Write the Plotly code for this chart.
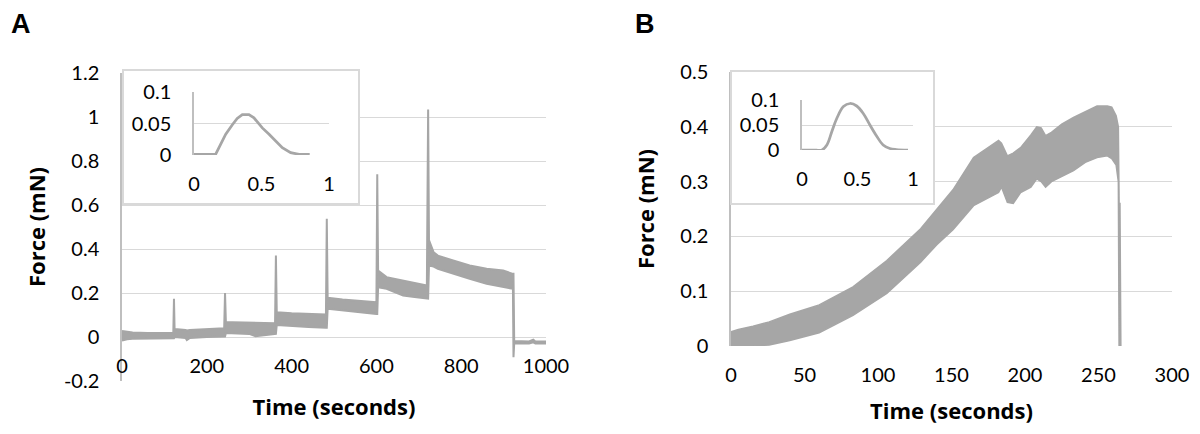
import plotly.graph_objects as go

# ---------------- data ----------------
# Panel A: force trace shown as lower/upper envelope of the noisy band (time in s, force in mN)
a_time = [0, 3, 12, 25, 60, 100, 121, 122.6, 124, 150, 153, 160, 200, 241,
          243, 245, 260, 300, 315, 325, 340, 361, 363, 365, 400, 440, 481,
          483, 485, 520, 560, 600, 602, 604, 624, 663, 690, 719, 722, 724,
          735, 745, 781, 820, 860, 899, 922, 923.3, 925, 960, 970, 975, 1000]
a_upper = [0.027, 0.026, 0.024, 0.02, 0.018, 0.018, 0.018, 0.174, 0.036, 0.032, 0.03, 0.032, 0.036, 0.04,
           0.2, 0.068, 0.067, 0.066, 0.064, 0.064, 0.063, 0.062, 0.37, 0.113, 0.108, 0.105, 0.102,
           0.537, 0.178, 0.17, 0.165, 0.158, 0.74, 0.302, 0.272, 0.257, 0.245, 0.234, 1.034, 0.44,
           0.385, 0.37, 0.348, 0.325, 0.31, 0.302, 0.287, 0.287, -0.018, -0.02, -0.012, -0.02, -0.02]
a_lower = [-0.016, -0.014, -0.01, -0.008, -0.007, -0.006, -0.006, -0.006, 0.0, -0.004, -0.014, -0.004, 0.0, 0.002,
           0.002, 0.018, 0.016, 0.014, 0.004, 0.006, 0.012, 0.014, 0.014, 0.055, 0.05, 0.045, 0.042,
           0.042, 0.128, 0.12, 0.112, 0.105, 0.105, 0.226, 0.219, 0.189, 0.182, 0.174, 0.174, 0.325,
           0.32, 0.31, 0.287, 0.265, 0.242, 0.226, 0.219, -0.092, -0.03, -0.03, -0.024, -0.03, -0.03]

# Panel A inset: single twitch (time in s, force in mN)
ia_time = [0, 0.05, 0.1, 0.16, 0.185, 0.235, 0.284, 0.32, 0.358, 0.407, 0.444, 0.506, 0.556,
           0.605, 0.654, 0.716, 0.778, 0.857]
ia_force = [0.001, 0.001, 0.001, 0.001, 0.0116, 0.033, 0.048, 0.058, 0.064, 0.064, 0.059, 0.043, 0.033,
            0.022, 0.0116, 0.0037, 0.001, 0.001]

# Panel B: envelope of the noisy band
b_time = [0, 5, 15, 26, 40, 60, 83, 106, 129, 140, 151, 165, 175, 182, 184, 188, 192, 197,
          204, 208, 211, 214, 218, 225, 233, 241, 249, 256, 259, 262, 263.5, 264, 264.6, 265.2]
b_upper = [0.026, 0.03, 0.036, 0.044, 0.058, 0.075, 0.108, 0.156, 0.214, 0.25, 0.285, 0.344, 0.362,
           0.375, 0.37, 0.347, 0.352, 0.362, 0.385, 0.40, 0.398, 0.384, 0.39, 0.405, 0.417, 0.428,
           0.438, 0.438, 0.436, 0.42, 0.40, 0.26, 0.26, 0.0]
b_lower = [0.0, 0.0, 0.0, 0.002, 0.01, 0.024, 0.056, 0.096, 0.153, 0.185, 0.212, 0.256, 0.27,
           0.28, 0.29, 0.262, 0.26, 0.28, 0.29, 0.305, 0.30, 0.29, 0.30, 0.31, 0.32, 0.335,
           0.344, 0.347, 0.342, 0.33, 0.30, 0.0, 0.0, 0.0]

# Panel B inset
ib_time = [0, 0.1, 0.18, 0.224, 0.269, 0.313, 0.373, 0.433, 0.493, 0.552, 0.612, 0.672,
           0.731, 0.791, 0.85, 0.955]
ib_force = [0.0, 0.0, 0.0, 0.01, 0.037, 0.063, 0.087, 0.093, 0.088, 0.073, 0.05, 0.028,
            0.01, 0.003, 0.001, 0.0]

# tick labels
a_yticks = [-0.2, 0, 0.2, 0.4, 0.6, 0.8, 1.0, 1.2]
a_yticktext = ["-0.2", "0", "0.2", "0.4", "0.6", "0.8", "1", "1.2"]
a_xticks = [0, 200, 400, 600, 800, 1000]
b_yticks = [0, 0.1, 0.2, 0.3, 0.4, 0.5]
b_yticktext = ["0", "0.1", "0.2", "0.3", "0.4", "0.5"]
b_xticks = [0, 50, 100, 150, 200, 250, 300]
in_yticks = [0, 0.05, 0.1]
in_yticktext = ["0", "0.05", "0.1"]
in_xticks = [0, 0.5, 1]
in_xticktext = ["0", "0.5", "1"]

# ---------------- styling ----------------
W, H = 1200, 434
GREY = "#a6a6a6"
GRID = "#d9d9d9"
AXL = "#bfbfbf"
TICKF = dict(family="Lato", size=20, color="black")
TITLEF = dict(family="Open Sans", size=22, color="black")


def px(x):
    return x / W


def py(y):
    return 1 - y / H


fig = go.Figure()

# Panel A main (subplot xy)
fig.add_trace(go.Scatter(x=a_time, y=a_lower, mode="lines", line=dict(color=GREY, width=2),
                         xaxis="x", yaxis="y", showlegend=False, hoverinfo="skip"))
fig.add_trace(go.Scatter(x=a_time, y=a_upper, mode="lines", line=dict(color=GREY, width=2),
                         fill="tonexty", fillcolor=GREY, xaxis="x", yaxis="y", showlegend=False))
# Panel B main (subplot x2y2)
fig.add_trace(go.Scatter(x=b_time, y=b_lower, mode="lines", line=dict(color=GREY, width=1.5),
                         xaxis="x2", yaxis="y2", showlegend=False, hoverinfo="skip"))
fig.add_trace(go.Scatter(x=b_time, y=b_upper, mode="lines", line=dict(color=GREY, width=1.5),
                         fill="tonexty", fillcolor=GREY, xaxis="x2", yaxis="y2", showlegend=False))
# Inset frames (empty subplots x3y3 / x4y4: white background + border)
fig.add_trace(go.Scatter(x=[None], y=[None], mode="lines", xaxis="x3", yaxis="y3", showlegend=False))
fig.add_trace(go.Scatter(x=[None], y=[None], mode="lines", xaxis="x4", yaxis="y4", showlegend=False))
# Insets (x5y5 / x6y6)
fig.add_trace(go.Scatter(x=ia_time, y=ia_force, mode="lines", line=dict(color=GREY, width=2.75),
                         xaxis="x5", yaxis="y5", showlegend=False))
fig.add_trace(go.Scatter(x=ib_time, y=ib_force, mode="lines", line=dict(color=GREY, width=2.75, shape="spline"),
                         xaxis="x6", yaxis="y6", showlegend=False))

common_x = dict(showgrid=False, zeroline=False, ticks="outside", ticklen=11,
                tickcolor="rgba(0,0,0,0)", tickfont=TICKF, automargin=False)
common_y = dict(showgrid=True, gridcolor=GRID, gridwidth=1.3, zeroline=False, showline=True,
                linecolor=AXL, linewidth=1.5, ticks="outside", ticklen=17,
                tickcolor="rgba(0,0,0,0)", tickfont=TICKF, automargin=False)
frame = dict(range=[0, 1], showgrid=False, zeroline=False, showticklabels=False, ticks="",
             showline=True, mirror=True, linecolor=GRID, linewidth=1.5, automargin=False, fixedrange=True)

fig.update_layout(
    width=W, height=H, margin=dict(l=0, r=0, t=0, b=0),
    paper_bgcolor="white", plot_bgcolor="white",
    xaxis=dict(domain=[px(122), px(546)], range=[0, 1000], tickvals=a_xticks,
               anchor="free", position=py(336.5),
               title=dict(text="<b>Time (seconds)</b>", font=TITLEF, standoff=24), **common_x),
    yaxis=dict(domain=[py(381), py(73)], range=[-0.2, 1.2], tickvals=a_yticks, ticktext=a_yticktext,
               anchor="x", title=dict(text="<b>Force (mN)</b>", font=TITLEF, standoff=12), **common_y),
    xaxis2=dict(domain=[px(731), px(1172)], range=[0, 300], tickvals=b_xticks, anchor="y2",
                title=dict(text="<b>Time (seconds)</b>", font=TITLEF, standoff=18), **common_x),
    yaxis2=dict(domain=[py(346), py(72)], range=[0, 0.5], tickvals=b_yticks, ticktext=b_yticktext,
                anchor="x2", title=dict(text="<b>Force (mN)</b>", font=TITLEF, standoff=20), **common_y),
    xaxis3=dict(domain=[px(124), px(358)], anchor="y3", **frame),
    yaxis3=dict(domain=[py(203), py(71)], anchor="x3", **frame),
    xaxis4=dict(domain=[px(732), px(933)], anchor="y4", **frame),
    yaxis4=dict(domain=[py(203), py(72)], anchor="x4", **frame),
    xaxis5=dict(domain=[px(194), px(329)], range=[0, 1], tickvals=in_xticks, ticktext=in_xticktext,
                anchor="y5", **common_x),
    yaxis5=dict(domain=[py(155), py(92)], range=[0, 0.1], tickvals=in_yticks, ticktext=in_yticktext,
                anchor="x5", **common_y),
    xaxis6=dict(domain=[px(802), px(913)], range=[0, 1], tickvals=in_xticks, ticktext=in_xticktext,
                anchor="y6", **common_x),
    yaxis6=dict(domain=[py(150), py(100)], range=[0, 0.1], tickvals=in_yticks, ticktext=in_yticktext,
                anchor="x6", **common_y),
)

# Panel letters
fig.add_annotation(text="<b>A</b>", x=px(21), y=py(24), xref="paper", yref="paper", showarrow=False,
                   xanchor="center", yanchor="middle",
                   font=dict(family="Liberation Sans", size=27, color="black"))
fig.add_annotation(text="<b>B</b>", x=px(645), y=py(24), xref="paper", yref="paper", showarrow=False,
                   xanchor="center", yanchor="middle",
                   font=dict(family="Liberation Sans", size=27, color="black"))

fig.write_html("out.html", config={"displayModeBar": False},
               post_script="document.body.style.margin='0px';")
